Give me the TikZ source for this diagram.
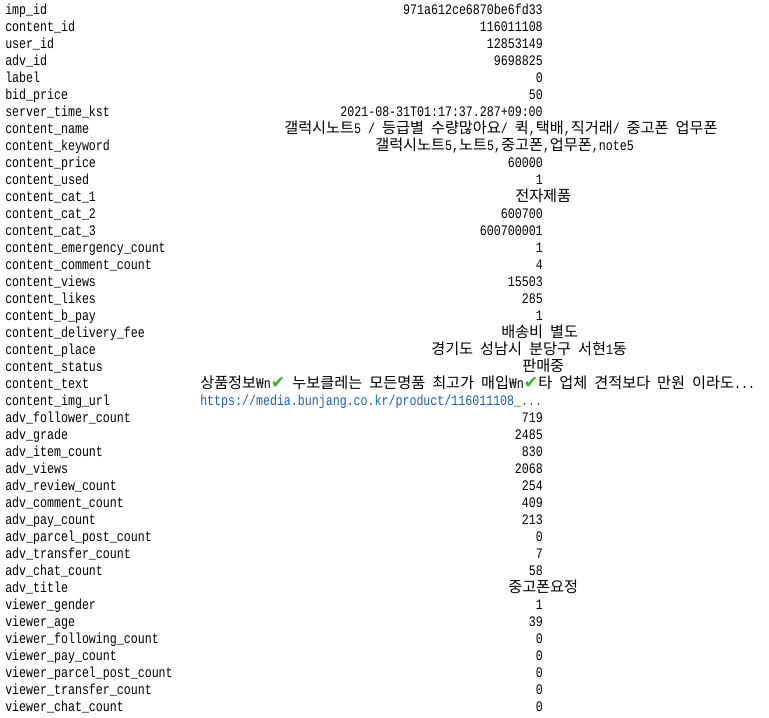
\documentclass[tikz,border=0pt]{standalone}
\usepackage{fontspec}
\usepackage{xcolor}
\usepackage{tikz}

\newfontfamily\monofont[FakeStretch=0.8]{Liberation Mono}
\newfontfamily\hangul{Noto Sans CJK KR}
\newfontfamily\symfont{DejaVu Sans}
\definecolor{urlblue}{RGB}{26,95,180}
\definecolor{checkgreen}{RGB}{60,175,50}
\newcommand{\kr}[1]{{\hangul\fontsize{11.4pt}{12pt}\selectfont #1}}
\newcommand{\won}{{\hangul\fontsize{10.5pt}{12pt}\selectfont ₩}}
\newcommand{\chk}{{\symfont\fontsize{13pt}{12pt}\selectfont\color{checkgreen}✔}}

\tikzset{
  field/.style={anchor=base west, inner sep=0pt, font=\monofont\fontsize{10.9pt}{12pt}\selectfont},
  num/.style={anchor=base east, inner sep=0pt, font=\monofont\fontsize{10.9pt}{12pt}\selectfont},
  txt/.style={anchor=base west, inner sep=0pt, font=\monofont\fontsize{10.9pt}{12pt}\selectfont},
}

\begin{document}
\begin{tikzpicture}[x=0.75pt, y=-0.75pt]
          \useasboundingbox (0,0) rectangle (769,718);
          % field names
          \node [field] (imp_id) at (5, 14) {imp\_id};
          \node [field] (content_id) at (5, 31) {content\_id};
          \node [field] (user_id) at (5, 48) {user\_id};
          \node [field] (adv_id) at (5, 65) {adv\_id};
          \node [field] (label) at (5, 82) {label};
          \node [field] (bid_price) at (5, 99) {bid\_price};
          \node [field] (server_time) at (5, 116) {server\_time\_kst};
          \node [field] (content_name) at (5, 133) {content\_name};
          \node [field] (content_keyword) at (5, 150) {content\_keyword};
          \node [field] (content_price) at (5, 167) {content\_price};
          \node [field] (content_used) at (5, 184) {content\_used};
          \node [field] (content_cat_1) at (5, 201) {content\_cat\_1};
          \node [field] (content_cat_2) at (5, 218) {content\_cat\_2};
          \node [field] (content_cat_3) at (5, 235) {content\_cat\_3};
          \node [field] (content_emergency) at (5, 252) {content\_emergency\_count};
          \node [field] (content_comment) at (5, 269) {content\_comment\_count};
          \node [field] (content_views) at (5, 286) {content\_views};
          \node [field] (content_likes) at (5, 303) {content\_likes};
          \node [field] (content_b_pay) at (5, 320) {content\_b\_pay};
          \node [field] (content_delivery) at (5, 337) {content\_delivery\_fee};
          \node [field] (content_place) at (5, 354) {content\_place};
          \node [field] (content_status) at (5, 371) {content\_status};
          \node [field] (content_text) at (5, 388) {content\_text};
          \node [field] (content_img) at (5, 405) {content\_img\_url};
          \node [field] (adv_follower) at (5, 422) {adv\_follower\_count};
          \node [field] (adv_grade) at (5, 439) {adv\_grade};
          \node [field] (adv_item) at (5, 456) {adv\_item\_count};
          \node [field] (adv_views) at (5, 473) {adv\_views};
          \node [field] (adv_review) at (5, 490) {adv\_review\_count};
          \node [field] (adv_comment) at (5, 507) {adv\_comment\_count};
          \node [field] (adv_pay) at (5, 524) {adv\_pay\_count};
          \node [field] (adv_parcel) at (5, 541) {adv\_parcel\_post\_count};
          \node [field] (adv_transfer) at (5, 558) {adv\_transfer\_count};
          \node [field] (adv_chat) at (5, 575) {adv\_chat\_count};
          \node [field] (adv_title) at (5, 592) {adv\_title};
          \node [field] (viewer_gender) at (5, 609) {viewer\_gender};
          \node [field] (viewer_age) at (5, 626) {viewer\_age};
          \node [field] (viewer_following) at (5, 643) {viewer\_following\_count};
          \node [field] (viewer_pay) at (5, 660) {viewer\_pay\_count};
          \node [field] (viewer_parcel) at (5, 677) {viewer\_parcel\_post\_count};
          \node [field] (viewer_transfer) at (5, 694) {viewer\_transfer\_count};
          \node [field] (viewer_chat) at (5, 711) {viewer\_chat\_count};
          % values
          \node [num] (imp_id v) at (543, 14) {971a612ce6870be6fd33};
          \node [num] (content_id v) at (543, 31) {116011108};
          \node [num] (user_id v) at (543, 48) {12853149};
          \node [num] (adv_id v) at (543, 65) {9698825};
          \node [num] (label v) at (543, 82) {0};
          \node [num] (bid_price v) at (543, 99) {50};
          \node [num] (server_time v) at (543, 116) {2021-08-31T01:17:37.287+09:00};
          \node [txt] (content_name v) at (284, 133) {\kr{갤럭시노트}5 / \kr{등급별} \kr{수량많아요}/ \kr{퀵},\kr{택배},\kr{직거래}/ \kr{중고폰} \kr{업무폰}};
          \node [txt] (content_keyword v) at (375, 150) {\kr{갤럭시노트}5,\kr{노트}5,\kr{중고폰},\kr{업무폰},note5};
          \node [num] (content_price v) at (543, 167) {60000};
          \node [num] (content_used v) at (543, 184) {1};
          \node [txt] (content_cat_1 v) at (515, 201) {\kr{전자제품}};
          \node [num] (content_cat_2 v) at (543, 218) {600700};
          \node [num] (content_cat_3 v) at (543, 235) {600700001};
          \node [num] (content_emergency v) at (543, 252) {1};
          \node [num] (content_comment v) at (543, 269) {4};
          \node [num] (content_views v) at (543, 286) {15503};
          \node [num] (content_likes v) at (543, 303) {285};
          \node [num] (content_b_pay v) at (543, 320) {1};
          \node [txt] (content_delivery v) at (501, 337) {\kr{배송비} \kr{별도}};
          \node [txt] (content_place v) at (431, 354) {\kr{경기도} \kr{성남시} \kr{분당구} \kr{서현}1\kr{동}};
          \node [txt] (content_status v) at (522, 371) {\kr{판매중}};
          \node [txt] (content_text v) at (200, 388) {\kr{상품정보}\won{}n\chk{} \kr{누보클레는} \kr{모든명품} \kr{최고가} \kr{매입}\won{}n\chk\kr{타} \kr{업체} \kr{견적보다} \kr{만원} \kr{이라도}...};
          \node [txt, text=urlblue] (content_img v) at (200, 405) {https://media.bunjang.co.kr/product/116011108\_...};
          \node [num] (adv_follower v) at (543, 422) {719};
          \node [num] (adv_grade v) at (543, 439) {2485};
          \node [num] (adv_item v) at (543, 456) {830};
          \node [num] (adv_views v) at (543, 473) {2068};
          \node [num] (adv_review v) at (543, 490) {254};
          \node [num] (adv_comment v) at (543, 507) {409};
          \node [num] (adv_pay v) at (543, 524) {213};
          \node [num] (adv_parcel v) at (543, 541) {0};
          \node [num] (adv_transfer v) at (543, 558) {7};
          \node [num] (adv_chat v) at (543, 575) {58};
          \node [txt] (adv_title v) at (508, 592) {\kr{중고폰요정}};
          \node [num] (viewer_gender v) at (543, 609) {1};
          \node [num] (viewer_age v) at (543, 626) {39};
          \node [num] (viewer_following v) at (543, 643) {0};
          \node [num] (viewer_pay v) at (543, 660) {0};
          \node [num] (viewer_parcel v) at (543, 677) {0};
          \node [num] (viewer_transfer v) at (543, 694) {0};
          \node [num] (viewer_chat v) at (543, 711) {0};
        \end{tikzpicture}
\end{document}
